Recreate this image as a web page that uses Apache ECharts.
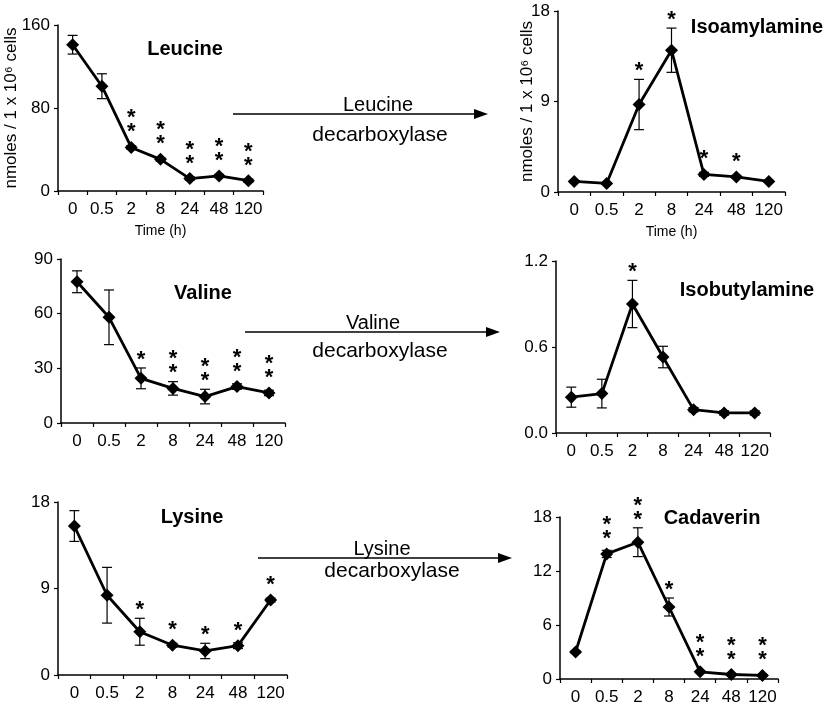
<!DOCTYPE html>
<html><head><meta charset="utf-8">
<script src="https://cdn.jsdelivr.net/npm/echarts/dist/echarts.min.js"></script>
<style>html,body{margin:0;padding:0;background:#fff}#c{width:829px;height:709px}</style>
</head><body><div id="c"></div>
<script>
const FONT = '"Liberation Sans", Arial, sans-serif';
const timeLabels = ['0', '0.5', '2', '8', '24', '48', '120'];

const leucine = [141, 101, 42, 30.5, 12, 14.5, 10];
const leucineErr = [9, 12, 1.5, 1.5, 1.5, 1.5, 1.5];
const leucineStars = [0, 0, 2, 2, 2, 2, 2];

const isoamylamine = [1.05, 0.85, 8.7, 14.1, 1.75, 1.5, 1.05];
const isoamylamineErr = [0.1, 0.1, 2.5, 2.2, 0.2, 0.15, 0.1];
const isoamylamineStars = [0, 0, 1, 1, 1, 1, 0];

const valine = [77.5, 58, 24.5, 19, 14.5, 20, 16.5];
const valineErr = [6, 15, 5.7, 3.7, 4, 1.5, 1.5];
const valineStars = [0, 0, 1, 2, 2, 2, 2];

const isobutylamine = [0.25, 0.275, 0.9, 0.53, 0.163, 0.14, 0.14];
const isobutylamineErr = [0.07, 0.1, 0.165, 0.075, 0.015, 0.015, 0.015];
const isobutylamineStars = [0, 0, 1, 0, 0, 0, 0];

const lysine = [15.5, 8.3, 4.5, 3.1, 2.5, 3.05, 7.8];
const lysineErr = [1.6, 2.9, 1.4, 0.2, 0.8, 0.3, 0.2];
const lysineStars = [0, 0, 1, 1, 1, 1, 1];

const cadaverin = [3.0, 13.9, 15.2, 8.0, 0.8, 0.5, 0.4];
const cadaverinErr = [0.1, 0.4, 1.6, 1.0, 0.1, 0.1, 0.1];
const cadaverinStars = [0, 2, 2, 1, 2, 2, 2];

const yLabel = 'nmoles / 1 x 10\u2076 cells';
const xName = 'Time (h)';

const panels = [
  {title: 'Leucine', vals: leucine, err: leucineErr, stars: leucineStars, max: 160, interval: 80,
   grid: {left: 58, top: 25, width: 205, height: 166}, tpos: [185, 49], yname: true, xname: true, ngap: 38},
  {title: 'Isoamylamine', vals: isoamylamine, err: isoamylamineErr, stars: isoamylamineStars, max: 18, interval: 9,
   grid: {left: 558, top: 11, width: 227, height: 181}, tpos: [757, 27], yname: true, xname: true, ngap: 22},
  {title: 'Valine', vals: valine, err: valineErr, stars: valineStars, max: 90, interval: 30,
   grid: {left: 61, top: 259, width: 224, height: 164}, tpos: [203, 293]},
  {title: 'Isobutylamine', vals: isobutylamine, err: isobutylamineErr, stars: isobutylamineStars, max: 1.2, interval: 0.6,
   grid: {left: 556, top: 261, width: 214, height: 172}, tpos: [747, 290], fmt: v => v.toFixed(1)},
  {title: 'Lysine', vals: lysine, err: lysineErr, stars: lysineStars, max: 18, interval: 9,
   grid: {left: 58, top: 502, width: 229, height: 173}, tpos: [192, 517]},
  {title: 'Cadaverin', vals: cadaverin, err: cadaverinErr, stars: cadaverinStars, max: 18, interval: 6,
   grid: {left: 560, top: 517, width: 218, height: 162}, tpos: [712, 518]}
];

const arrows = [
  {x1: 233, x2: 488, y: 114, top: 'Leucine', tx: 378, bx: 380, by: 135},
  {x1: 245, x2: 500, y: 332, top: 'Valine', tx: 373, bx: 380, by: 351},
  {x1: 258, x2: 512, y: 558, top: 'Lysine', tx: 382, bx: 392, by: 571}
];

const grids = [], xAxes = [], yAxes = [], series = [], graphics = [];

panels.forEach((p, i) => {
  grids.push(Object.assign({outerBoundsMode: 'none', containLabel: false}, p.grid));
  xAxes.push({
    type: 'category', gridIndex: i, data: timeLabels, boundaryGap: true,
    name: p.xname ? xName : '', nameLocation: 'middle', nameGap: 33, nameMoveOverlap: false,
    nameTextStyle: {color: '#000', fontSize: 14, fontFamily: FONT},
    axisLine: {show: true, lineStyle: {color: '#000', width: 1.5}},
    axisTick: {show: true, length: 4, alignWithLabel: false, lineStyle: {color: '#000', width: 1.2}},
    axisLabel: {color: '#000', fontSize: 17, margin: 10, fontFamily: FONT, interval: 0},
    splitLine: {show: false}
  });
  yAxes.push({
    type: 'value', gridIndex: i, min: 0, max: p.max, interval: p.interval,
    name: p.yname ? yLabel : '', nameLocation: 'middle', nameGap: p.ngap || 30, nameMoveOverlap: false,
    nameTextStyle: {color: '#000', fontSize: 17, fontFamily: FONT},
    axisLine: {show: true, lineStyle: {color: '#000', width: 1.5}},
    axisTick: {show: true, length: 4, lineStyle: {color: '#000', width: 1.2}},
    axisLabel: {color: '#000', fontSize: 17, margin: 8, fontFamily: FONT, formatter: p.fmt},
    splitLine: {show: false}
  });
  series.push({
    type: 'custom', xAxisIndex: i, yAxisIndex: i, silent: true, z: 3,
    data: p.vals.map((v, k) => [k, v, p.err[k]]),
    renderItem: (params, api) => {
      const x = api.value(0), v = api.value(1), e = api.value(2);
      const hi = api.coord([x, v + e]), lo = api.coord([x, v - e]);
      const w = 5, st = {stroke: '#000', lineWidth: 1.2};
      return {type: 'group', children: [
        {type: 'line', shape: {x1: hi[0], y1: hi[1], x2: lo[0], y2: lo[1]}, style: st},
        {type: 'line', shape: {x1: hi[0] - w, y1: hi[1], x2: hi[0] + w, y2: hi[1]}, style: st},
        {type: 'line', shape: {x1: lo[0] - w, y1: lo[1], x2: lo[0] + w, y2: lo[1]}, style: st}
      ]};
    }
  });
  series.push({
    type: 'line', xAxisIndex: i, yAxisIndex: i, data: p.vals, z: 4,
    symbol: 'diamond', symbolSize: 13,
    lineStyle: {color: '#000', width: 2.8}, itemStyle: {color: '#000'}
  });
  series.push({
    type: 'custom', xAxisIndex: i, yAxisIndex: i, silent: true, z: 5,
    data: p.vals.map((v, k) => [k, v, p.err[k], p.stars[k]]),
    renderItem: (params, api) => {
      const n = api.value(3);
      if (!n) return null;
      const x = api.value(0), v = api.value(1), e = api.value(2);
      const pt = api.coord([x, v]), hi = api.coord([x, v + e]);
      const top = Math.min(hi[1], pt[1] - 7);
      const children = [];
      for (let k = 0; k < n; k++) {
        children.push({type: 'text', style: {
          text: '*', x: pt[0], y: top - 8 - k * 14,
          align: 'center', verticalAlign: 'middle',
          font: 'bold 22px ' + FONT, fill: '#000'}});
      }
      return {type: 'group', children};
    }
  });
  graphics.push({type: 'text', style: {
    text: p.title, x: p.tpos[0], y: p.tpos[1], align: 'center', verticalAlign: 'middle',
    font: 'bold 20px ' + FONT, fill: '#000'}});
});

arrows.forEach(a => {
  graphics.push({type: 'line', shape: {x1: a.x1, y1: a.y, x2: a.x2 - 8, y2: a.y}, style: {stroke: '#000', lineWidth: 1.3}});
  graphics.push({type: 'polygon', shape: {points: [[a.x2 - 14, a.y - 5], [a.x2, a.y], [a.x2 - 14, a.y + 5]]}, style: {fill: '#000'}});
  graphics.push({type: 'text', style: {text: a.top, x: a.tx, y: a.y - 9, align: 'center', verticalAlign: 'middle', font: '20px ' + FONT, fill: '#000'}});
  graphics.push({type: 'text', style: {text: 'decarboxylase', x: a.bx, y: a.by, align: 'center', verticalAlign: 'middle', font: '21px ' + FONT, fill: '#000'}});
});

const chart = echarts.init(document.getElementById('c'), null, {renderer: 'canvas'});
chart.setOption({
  animation: false,
  backgroundColor: '#fff',
  grid: grids, xAxis: xAxes, yAxis: yAxes, series: series,
  graphic: {elements: graphics}
});
</script></body></html>
